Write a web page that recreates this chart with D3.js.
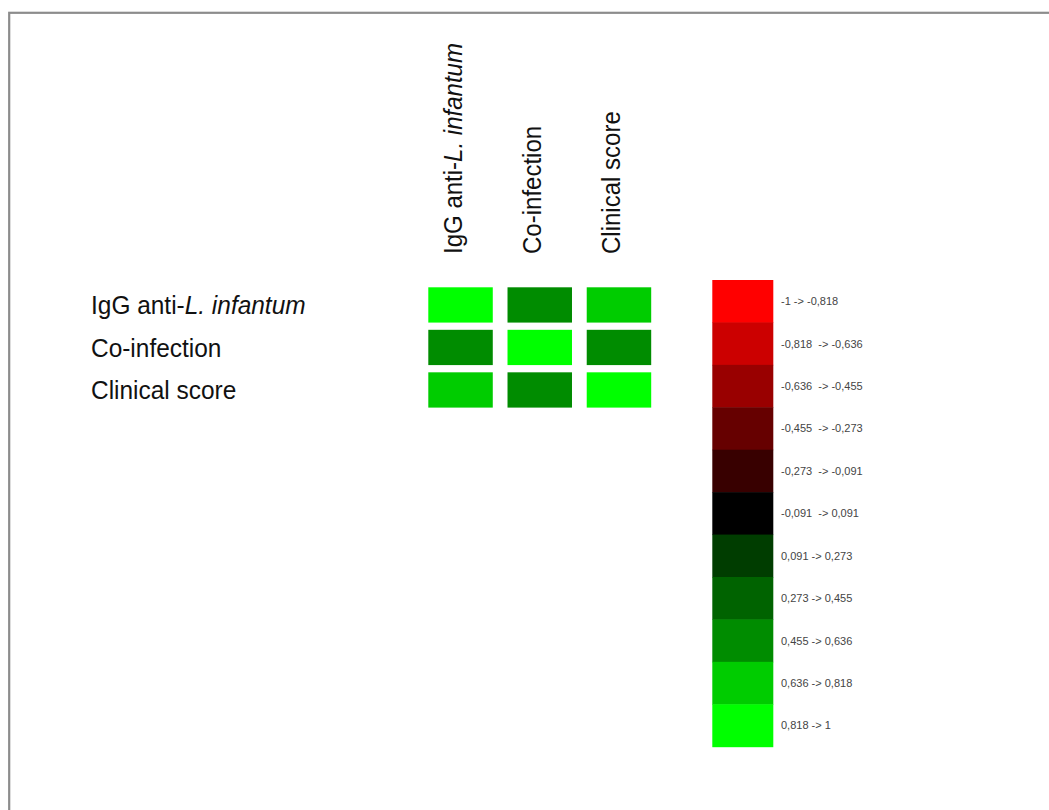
<!DOCTYPE html>
<html>
<head>
<meta charset="utf-8">
<script src="https://cdn.jsdelivr.net/npm/d3@7"></script>
<style>
  html, body { margin: 0; padding: 0; background: #fff; }
  svg { display: block; }
</style>
</head>
<body>
<svg id="chart" width="1049" height="810"></svg>
<script>
// Variables of the correlation matrix
const variables = ["IgG", "Co-infection", "Clinical score"];

// Correlation coefficients, one row per variable (symmetric matrix)
const rowIgG      = [1.00, 0.52, 0.70];
const rowCoinf    = [0.52, 1.00, 0.55];
const rowClinical = [0.70, 0.55, 1.00];
const matrix = [rowIgG, rowCoinf, rowClinical];

// Colour classes of the legend (11 equal bins from -1 to 1)
const binLabels = [
  "-1 -> -0,818", "-0,818  -> -0,636", "-0,636  -> -0,455", "-0,455  -> -0,273",
  "-0,273  -> -0,091", "-0,091  -> 0,091", "0,091 -> 0,273", "0,273 -> 0,455",
  "0,455 -> 0,636", "0,636 -> 0,818", "0,818 -> 1"
];
const binColors = [
  "#ff0000", "#cc0000", "#990000", "#660000", "#380000", "#000000",
  "#003d00", "#006300", "#008c00", "#00cc00", "#00ff00"
];

const svg = d3.select("#chart");
const FONT = "'Liberation Sans', Arial, Helvetica, sans-serif";

// Frame around the figure
svg.append("rect")
  .attr("x", 9.2).attr("y", 12.8)
  .attr("width", 1200).attr("height", 1000)
  .attr("fill", "none")
  .attr("stroke", "#8c8c8c")
  .attr("stroke-width", 2.2);

const color = d3.scaleQuantize().domain([-1, 1]).range(binColors);

const x = d3.scaleBand().domain(d3.range(variables.length))
  .range([428.3, 651.2]).paddingInner(0.186).paddingOuter(0);
const y = d3.scaleBand().domain(d3.range(variables.length))
  .range([287.3, 407.6]).paddingInner(0.17).paddingOuter(0);

// Cells
const cells = [];
matrix.forEach((row, i) => row.forEach((v, j) => cells.push({ i, j, v })));
svg.append("g").selectAll("rect").data(cells).join("rect")
  .attr("x", d => x(d.j))
  .attr("y", d => y(d.i))
  .attr("width", x.bandwidth())
  .attr("height", y.bandwidth())
  .attr("fill", d => color(d.v));

// Label writer: "IgG anti-" followed by italic "L. infantum"
function writeLabel(sel, name) {
  if (name === "IgG") {
    sel.append("tspan").text("IgG anti-");
    sel.append("tspan").attr("font-style", "italic").text("L. infantum");
  } else {
    sel.text(name);
  }
}

// Row labels (slightly condensed type)
svg.append("g").selectAll("text").data(variables).join("text")
  .attr("transform", (d, i) => `translate(91,${y(i) + y.bandwidth() / 2 + 9.5}) scale(0.955,1)`)
  .attr("font-family", FONT)
  .attr("font-size", 25.6)
  .attr("fill", "#111")
  .each(function (d) { writeLabel(d3.select(this), d); });

// Column labels, rotated
svg.append("g").selectAll("text").data(variables).join("text")
  .attr("transform", (d, i) => `translate(${x(i) + x.bandwidth() / 2 + 1.5},254) rotate(-90) scale(0.942,1)`)
  .attr("font-family", FONT)
  .attr("font-size", 25.5)
  .attr("fill", "#111")
  .each(function (d) { writeLabel(d3.select(this), d); });

// Legend
const ly = d3.scaleBand().domain(d3.range(binLabels.length)).range([280, 746.7]);
const legend = svg.append("g");
legend.selectAll("rect").data(binColors).join("rect")
  .attr("x", 712.3)
  .attr("y", (d, i) => ly(i))
  .attr("width", 61)
  .attr("height", ly.bandwidth() + 0.5)
  .attr("fill", d => d);
legend.selectAll("text").data(binLabels).join("text")
  .attr("x", 781)
  .attr("y", (d, i) => ly(i) + ly.bandwidth() / 2 + 4)
  .attr("font-family", FONT)
  .attr("font-size", 11)
  .attr("fill", "#444")
  .attr("xml:space", "preserve")
  .style("white-space", "pre")
  .text(d => d);
</script>
</body>
</html>
